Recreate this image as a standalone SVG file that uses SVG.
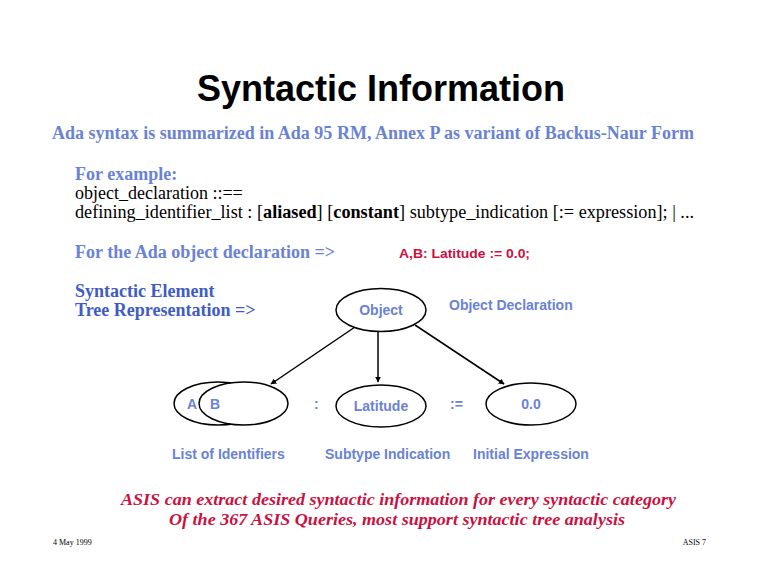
<svg xmlns="http://www.w3.org/2000/svg" width="762" height="588" viewBox="0 0 762 588">
<style>
.title{font-family:"Liberation Sans",Arial,sans-serif;font-weight:bold;font-size:36px;fill:#000}
.sb{font-family:"Liberation Serif","Times New Roman",serif;font-weight:bold;font-size:18px;fill:#6a82d4}
.sb2{font-family:"Liberation Serif","Times New Roman",serif;font-weight:bold;font-size:18px;fill:#3f5cc4}
.sr{font-family:"Liberation Serif","Times New Roman",serif;font-size:18px;fill:#000}
.red{font-family:"Liberation Sans",Arial,sans-serif;font-weight:bold;font-size:12px;fill:#cc1040}
.redi{font-family:"Liberation Serif","Times New Roman",serif;font-weight:bold;font-style:italic;font-size:17px;fill:#cc1040}
.lab{font-family:"Liberation Sans",Arial,sans-serif;font-weight:bold;font-size:14px;fill:#6a82d4}
.foot{font-family:"Liberation Serif","Times New Roman",serif;font-size:8px;fill:#000}
.node{fill:#fff;stroke:#000;stroke-width:1.5}
.edge{stroke:#000;stroke-width:1.5;fill:none;marker-end:url(#ah)}
</style>
<defs>
<marker id="ah" viewBox="0 0 10 10" refX="9" refY="5" markerWidth="6" markerHeight="6" orient="auto" markerUnits="userSpaceOnUse">
<path d="M0,0 L10,5 L0,10 z" fill="#000"/>
</marker>
</defs>
<rect width="762" height="588" fill="#fff"/>
<text class="title" x="381" y="101" text-anchor="middle">Syntactic Information</text>
<text class="sb" x="52" y="139" textLength="642" lengthAdjust="spacingAndGlyphs">Ada syntax is summarized in Ada 95 RM, Annex P as variant of Backus-Naur Form</text>
<text class="sb" x="75" y="180">For example:</text>
<text class="sr" x="75" y="199">object_declaration ::==</text>
<text class="sr" x="75" y="218" textLength="619" lengthAdjust="spacingAndGlyphs">defining_identifier_list : [<tspan font-weight="bold">aliased</tspan>] [<tspan font-weight="bold">constant</tspan>] subtype_indication [:= expression]; | ...</text>
<text class="sb" x="75" y="258" textLength="260" lengthAdjust="spacingAndGlyphs">For the Ada object declaration =&gt;</text>
<text class="red" x="399" y="258" textLength="131" lengthAdjust="spacingAndGlyphs">A,B: Latitude := 0.0;</text>
<text class="sb2" x="75" y="297">Syntactic Element</text>
<text class="sb2" x="75" y="316">Tree Representation =&gt;</text>
<g id="connectors">
<line class="edge" x1="355" y1="327" x2="271" y2="384"/>
<line class="edge" x1="378" y1="331" x2="378" y2="382"/>
<line class="edge" x1="415" y1="325" x2="504" y2="384"/>
</g>
<g id="object">
<ellipse class="node" cx="381" cy="310" rx="45" ry="21.5"/>
<text class="lab" x="381" y="315" text-anchor="middle">Object</text>
</g>
<text class="lab" x="449" y="310">Object Declaration</text>
<g id="identifiers">
<ellipse class="node" cx="218" cy="403.5" rx="44" ry="21.5"/>
<ellipse class="node" cx="243.5" cy="403.5" rx="44.5" ry="21.5"/>
<text class="lab" x="187" y="409">A</text>
<text class="lab" x="210" y="409">B</text>
</g>
<text class="lab" x="314" y="409">:</text>
<g id="latitude">
<ellipse class="node" cx="381" cy="406" rx="45" ry="21"/>
<text class="lab" x="381" y="411" text-anchor="middle">Latitude</text>
</g>
<text class="lab" x="450" y="409">:=</text>
<g id="value">
<ellipse class="node" cx="531" cy="404" rx="45" ry="21"/>
<text class="lab" x="531" y="409" text-anchor="middle">0.0</text>
</g>
<text class="lab" x="172" y="459">List of Identifiers</text>
<text class="lab" x="325" y="459">Subtype Indication</text>
<text class="lab" x="473" y="459">Initial Expression</text>
<text class="redi" x="121" y="505" textLength="555" lengthAdjust="spacingAndGlyphs">ASIS can extract desired syntactic information for every syntactic category</text>
<text class="redi" x="169" y="525" textLength="456" lengthAdjust="spacingAndGlyphs">Of the 367 ASIS Queries, most support syntactic tree analysis</text>
<text class="foot" x="53" y="545">4 May 1999</text>
<text class="foot" x="706" y="545" text-anchor="end">ASIS 7</text>
</svg>
